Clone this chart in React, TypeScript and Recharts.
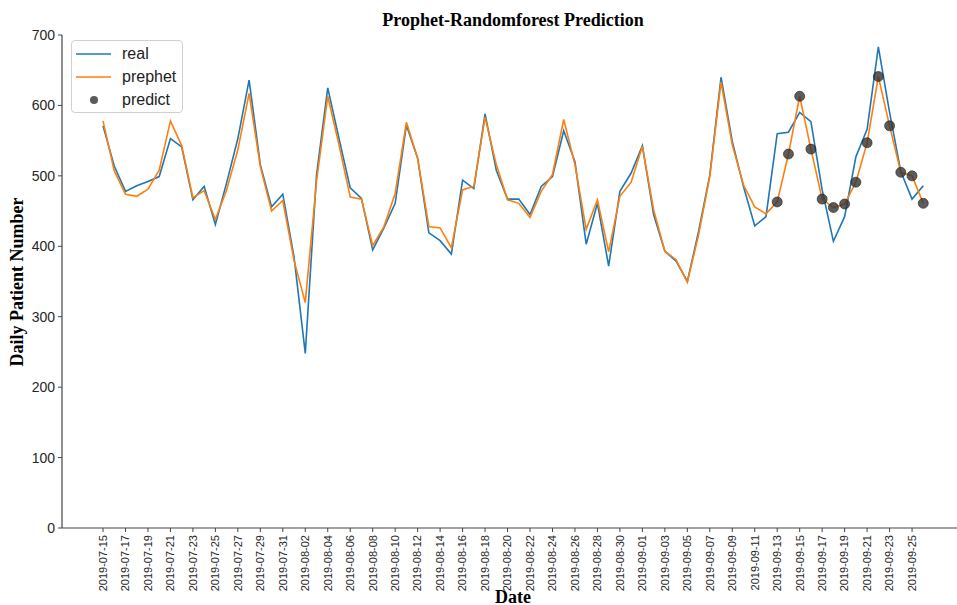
import {
  ComposedChart,
  Line,
  Scatter,
  XAxis,
  YAxis,
} from "recharts";

const dates = [
  "2019-07-15", "2019-07-16", "2019-07-17", "2019-07-18", "2019-07-19", "2019-07-20",
  "2019-07-21", "2019-07-22", "2019-07-23", "2019-07-24", "2019-07-25", "2019-07-26",
  "2019-07-27", "2019-07-28", "2019-07-29", "2019-07-30", "2019-07-31", "2019-08-01",
  "2019-08-02", "2019-08-03", "2019-08-04", "2019-08-05", "2019-08-06", "2019-08-07",
  "2019-08-08", "2019-08-09", "2019-08-10", "2019-08-11", "2019-08-12", "2019-08-13",
  "2019-08-14", "2019-08-15", "2019-08-16", "2019-08-17", "2019-08-18", "2019-08-19",
  "2019-08-20", "2019-08-21", "2019-08-22", "2019-08-23", "2019-08-24", "2019-08-25",
  "2019-08-26", "2019-08-27", "2019-08-28", "2019-08-29", "2019-08-30", "2019-08-31",
  "2019-09-01", "2019-09-02", "2019-09-03", "2019-09-04", "2019-09-05", "2019-09-06",
  "2019-09-07", "2019-09-08", "2019-09-09", "2019-09-10", "2019-09-11", "2019-09-12",
  "2019-09-13", "2019-09-14", "2019-09-15", "2019-09-16", "2019-09-17", "2019-09-18",
  "2019-09-19", "2019-09-20", "2019-09-21", "2019-09-22", "2019-09-23", "2019-09-24",
  "2019-09-25", "2019-09-26",
];

const real = [
  571, 514, 478, 486, 492, 499, 553, 541, 466, 485, 431, 490, 553, 636, 516, 456, 474,
  385, 248, 501, 625, 553, 483, 468, 395, 426, 461, 572, 525, 419, 408, 389, 494, 482,
  588, 508, 467, 467, 445, 485, 499, 564, 520, 403, 461, 372, 478, 504, 543, 445, 393,
  379, 350, 421, 501, 640, 549, 485, 429, 442, 560, 562, 590, 577, 480, 407, 442, 527,
  566, 683, 590, 506, 467, 486,
];

const prophet = [
  578, 507, 474, 471, 481, 508, 578, 543, 469, 479, 438, 480, 537, 617, 513, 450, 465,
  380, 320, 492, 613, 544, 470, 467, 401, 428, 475, 576, 525, 428, 426, 398, 480, 485,
  583, 516, 466, 461, 441, 478, 502, 580, 516, 424, 466, 392, 471, 491, 542, 452, 393,
  381, 349, 416, 499, 633, 544, 487, 456, 446, 463, 531, 613, 538, 467, 455, 460, 491,
  547, 641, 571, 505, 500, 461,
];

const predictDates = [
  "2019-09-13", "2019-09-14", "2019-09-15", "2019-09-16", "2019-09-17", "2019-09-18",
  "2019-09-19", "2019-09-20", "2019-09-21", "2019-09-22", "2019-09-23", "2019-09-24",
  "2019-09-25", "2019-09-26",
];
const predict = [463, 531, 613, 538, 467, 455, 460, 491, 547, 641, 571, 505, 500, 461];

const tickDates = [
  "2019-07-15", "2019-07-17", "2019-07-19", "2019-07-21", "2019-07-23", "2019-07-25",
  "2019-07-27", "2019-07-29", "2019-07-31", "2019-08-02", "2019-08-04", "2019-08-06",
  "2019-08-08", "2019-08-10", "2019-08-12", "2019-08-14", "2019-08-16", "2019-08-18",
  "2019-08-20", "2019-08-22", "2019-08-24", "2019-08-26", "2019-08-28", "2019-08-30",
  "2019-09-01", "2019-09-03", "2019-09-05", "2019-09-07", "2019-09-09", "2019-09-11",
  "2019-09-13", "2019-09-15", "2019-09-17", "2019-09-19", "2019-09-21", "2019-09-23",
  "2019-09-25",
];
const yTicks = [0, 100, 200, 300, 400, 500, 600, 700];

const rows = dates.map((d, i) => ({ idx: i, date: d, real: real[i], prophet: prophet[i] }));
const predictRows = predictDates.map((d, k) => ({ idx: dates.indexOf(d), predict: predict[k] }));
const tickIdx = tickDates.map((d) => dates.indexOf(d));

const BLUE = "#1f77b4";
const ORANGE = "#ff7f0e";
const DOT = "#333333";
const SANS = "'Liberation Sans', Arial, sans-serif";
const SERIF = "'Liberation Serif', 'Times New Roman', serif";

const DateTick = ({ x, y, payload }: any) => (
  <g transform={`translate(${x},${y})`}>
    <text
      transform="rotate(-90)"
      textAnchor="end"
      dy="0.35em"
      fontSize={11}
      fontFamily={SANS}
      fill="#262626"
    >
      {dates[payload.value]}
    </text>
  </g>
);

const legendItems = [
  { label: "real", kind: "line", color: BLUE },
  { label: "prephet", kind: "line", color: ORANGE },
  { label: "predict", kind: "dot", color: DOT },
];

const LegendBox = () => (
  <div
    style={{
      position: "absolute",
      left: 71,
      top: 40,
      width: 112,
      height: 73,
      border: "1px solid #d0d0d0",
      borderRadius: 4,
      background: "rgba(255,255,255,0.85)",
      fontFamily: SANS,
      fontSize: 16,
      color: "#222",
      boxSizing: "border-box",
    }}
  >
    {legendItems.map((e, k) => (
      <div
        key={e.label}
        style={{ position: "absolute", left: 0, top: 3 + k * 23, height: 20, width: "100%" }}
      >
        <svg width={42} height={20} style={{ position: "absolute", left: 3, top: 0 }}>
          {e.kind === "line" ? (
            <line x1={1} x2={36} y1={10} y2={10} stroke={e.color} strokeWidth={1.6} />
          ) : (
            <circle cx={19} cy={10} r={4} fill={e.color} fillOpacity={0.8} />
          )}
        </svg>
        <span style={{ position: "absolute", left: 50, top: 0, lineHeight: "20px" }}>
          {e.label}
        </span>
      </div>
    ))}
  </div>
);

export default function App() {
  return (
    <div style={{ position: "absolute", left: 0, top: 0, width: 957, height: 605, background: "#fff" }}>
      <ComposedChart
        width={957}
        height={605}
        data={rows}
        margin={{ top: 35, right: 0, bottom: 0, left: 0 }}
      >
        <XAxis
          type="number"
          dataKey="idx"
          domain={[-3.65, 76]}
          allowDataOverflow
          ticks={tickIdx}
          interval={0}
          height={77}
          tick={<DateTick />}
          tickSize={4}
          tickMargin={3}
          tickLine={{ stroke: "#444" }}
          axisLine={{ stroke: "#444", strokeWidth: 1.2 }}
        />
        <YAxis
          type="number"
          domain={[0, 700]}
          ticks={yTicks}
          width={62}
          tickSize={4}
          tickMargin={3}
          tick={{ fontSize: 14, fontFamily: SANS, fill: "#262626" }}
          tickLine={{ stroke: "#444" }}
          axisLine={{ stroke: "#444", strokeWidth: 1.2 }}
        />
        <Line
          type="linear"
          dataKey="real"
          stroke={BLUE}
          strokeWidth={1.6}
          dot={false}
          isAnimationActive={false}
        />
        <Line
          type="linear"
          dataKey="prophet"
          stroke={ORANGE}
          strokeWidth={1.6}
          dot={false}
          isAnimationActive={false}
        />
        <Scatter
          data={predictRows}
          dataKey="predict"
          fill={DOT}
          fillOpacity={0.8}
          shape={(p: any) => (
            <circle cx={p.cx} cy={p.cy} r={5} fill={DOT} fillOpacity={0.8} stroke="#222" strokeOpacity={0.6} strokeWidth={1} />
          )}
          isAnimationActive={false}
        />
      </ComposedChart>
      <LegendBox />
      <div
        style={{
          position: "absolute",
          left: 62,
          width: 902,
          top: 9,
          textAlign: "center",
          fontFamily: SERIF,
          fontWeight: "bold",
          fontSize: 18,
          lineHeight: "22px",
          color: "#000",
        }}
      >
        Prophet-Randomforest Prediction
      </div>
      <div
        style={{
          position: "absolute",
          left: 17,
          top: 282,
          transform: "translate(-50%, -50%) rotate(-90deg)",
          whiteSpace: "nowrap",
          fontFamily: SERIF,
          fontWeight: "bold",
          fontSize: 18,
          color: "#000",
        }}
      >
        Daily Patient Number
      </div>
      <div
        style={{
          position: "absolute",
          left: 513,
          top: 597,
          transform: "translate(-50%, -50%)",
          fontFamily: SERIF,
          fontWeight: "bold",
          fontSize: 18,
          color: "#000",
        }}
      >
        Date
      </div>
    </div>
  );
}
